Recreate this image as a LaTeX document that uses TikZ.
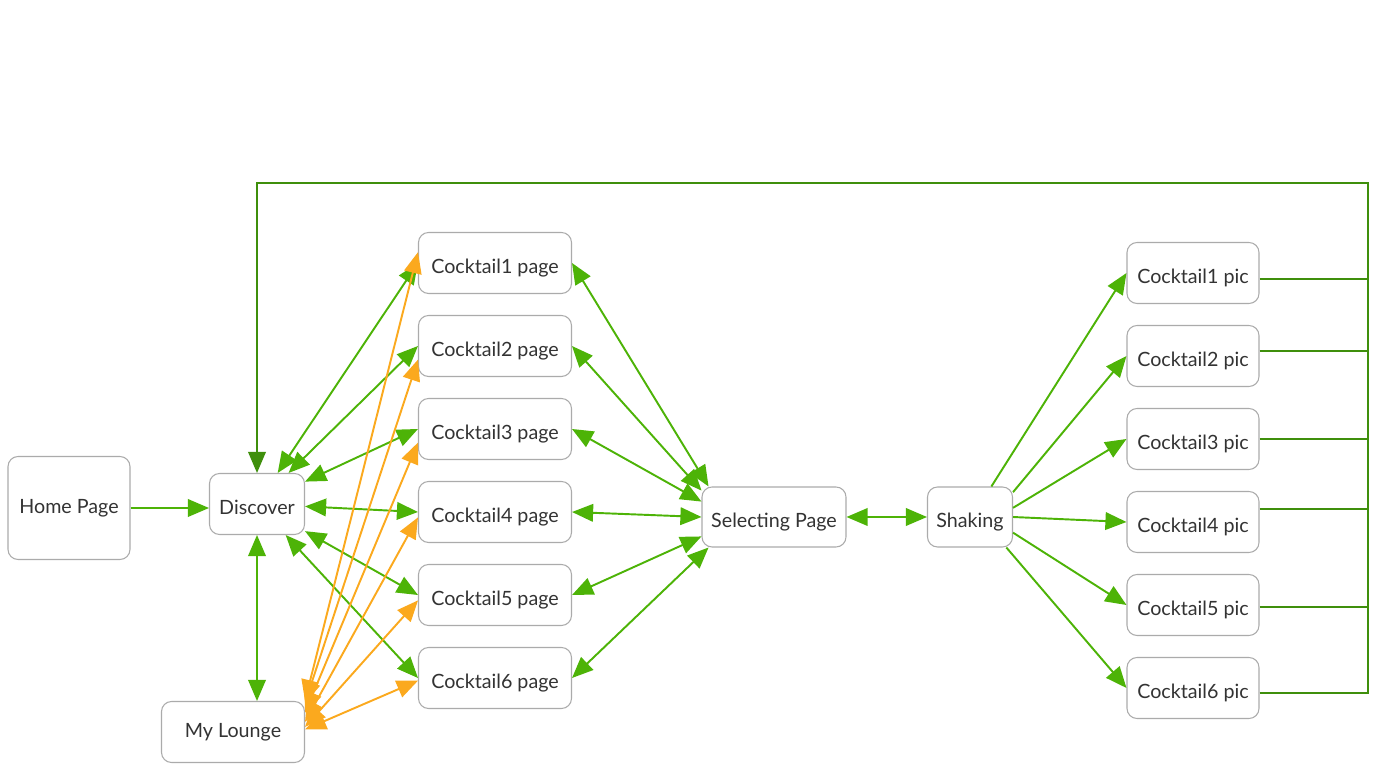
\documentclass[tikz,border=0pt]{standalone}
\usepackage{fontspec}
\setmainfont{Lato}
\usepackage{tikz}
\usetikzlibrary{arrows.meta}
\usetikzlibrary{calc}
\usetikzlibrary{positioning}

\definecolor{linkgreen}{HTML}{4DB307}
\definecolor{backgreen}{HTML}{3F8F0C}
\definecolor{loungeorange}{HTML}{FBA91E}
\definecolor{boxgray}{HTML}{ABABAB}
\definecolor{textgray}{HTML}{333333}

\begin{document}
\begin{tikzpicture}[
	x=0.02cm, y=-0.02cm,
  > = {Triangle[length=12pt,width=10pt]},
  screen/.style = {draw=boxgray, line width=0.6pt, rounded corners=0.2cm, fill=white, text=textgray,
    font=\fontsize{11.2}{13}\selectfont, minimum height=1.22cm, inner sep=2pt},
  low/.style = {text height=14pt, text depth=2.6pt},
  link/.style = {draw=linkgreen, line width=1.1pt},
  lounge/.style = {draw=loungeorange, line width=1.1pt},
  back/.style = {draw=backgreen, line width=1.1pt}
  ]
	\useasboundingbox (0,0) rectangle (1390,776);

	\node[screen, minimum width=2.44cm, minimum height=2.06cm] (home) at (69,508) {Home Page};
	\node[screen, low, minimum width=1.9cm] (disc) at (257,504) {Discover};
	\node[screen, minimum width=2.86cm] (ml) at (233,732) {My Lounge};

	\node[screen, low, minimum width=3.06cm] (c1) at (495,263) {Cocktail1 page};
	\node[screen, low, minimum width=3.06cm] (c2) at (495,346) {Cocktail2 page};
	\node[screen, low, minimum width=3.06cm] (c3) at (495,429) {Cocktail3 page};
	\node[screen, low, minimum width=3.06cm] (c4) at (495,512) {Cocktail4 page};
	\node[screen, low, minimum width=3.06cm] (c5) at (495,595) {Cocktail5 page};
	\node[screen, low, minimum width=3.06cm] (c6) at (495,678) {Cocktail6 page};

	\node[screen, low, minimum width=2.88cm, minimum height=1.2cm] (sel) at (774,517) {Selecting Page};
	\node[screen, low, minimum width=1.7cm, minimum height=1.2cm] (shk) at (970,517) {Shaking};

	\node[screen, low, minimum width=2.64cm] (p1) at (1193,273) {Cocktail1 pic};
	\node[screen, low, minimum width=2.64cm] (p2) at (1193,356) {Cocktail2 pic};
	\node[screen, low, minimum width=2.64cm] (p3) at (1193,439) {Cocktail3 pic};
	\node[screen, low, minimum width=2.64cm] (p4) at (1193,522) {Cocktail4 pic};
	\node[screen, low, minimum width=2.64cm] (p5) at (1193,605) {Cocktail5 pic};
	\node[screen, low, minimum width=2.64cm] (p6) at (1193,688) {Cocktail6 pic};

	\coordinate (@tr) at (1368,183);

	% back to Discover
	\draw[back] (p1.-5) -- (p1.-5 -| @tr);
	\draw[back] (p2.4) -- (p2.4 -| @tr);
	\draw[back] (p3.east) -- (p3.east -| @tr);
	\draw[back] (p4.11) -- (p4.11 -| @tr);
	\draw[back] (p5.-2) -- (p5.-2 -| @tr);
	\draw[back, ->] (p6.-4) -| (@tr) -| (disc.north);

	\draw[link, ->] (home.east) to (home.east -| disc.west);
	\draw[link, <->] (disc.south) to (disc.south |- ml.north);

	\draw[link, <->] (disc) to (c1.west);
	\draw[link, <->] (disc) to (c2.west);
	\draw[link, <->] (disc) to (c3.west);
	\draw[link, <->] (disc) to (c4.west);
	\draw[link, <->] (disc) to (c5.west);
	\draw[link, <->] (disc) to (c6.west);

	\draw[lounge, <->] (ml.north east) to (c1.172);
	\draw[lounge, <->] (ml.22) to (c2.190);
	\draw[lounge, <->] (ml.15) to (c3.190);
	\draw[lounge, <->] (ml.8) to (c4.184);
	\draw[lounge, <->] (ml.4) to (c5.184);
	\draw[lounge, <->] (ml.2) to (c6.182);

	\draw[link, <->] (c1.east) to (sel.155);
	\draw[link, <->] (c2.east) to (sel.160);
	\draw[link, <->] (c3.east) to (sel.168);
	\draw[link, <->] (c4.east) to (sel.west);
	\draw[link, <->] (c5.east) to (sel.195);
	\draw[link, <->] (c6.east) to (sel.205);

	\draw[link, <->] (sel.east) to (shk.west);

	\draw[link, ->] (shk.55) to (p1.west);
	\draw[link, ->] (shk.30) to (p2.west);
	\draw[link, ->] (shk.12) to (p3.west);
	\draw[link, ->] (shk.east) to (p4.west);
	\draw[link, ->] (shk.-20) to (p5.west);
	\draw[link, ->] (shk.-40) to (p6.west);

\end{tikzpicture}
\end{document}
